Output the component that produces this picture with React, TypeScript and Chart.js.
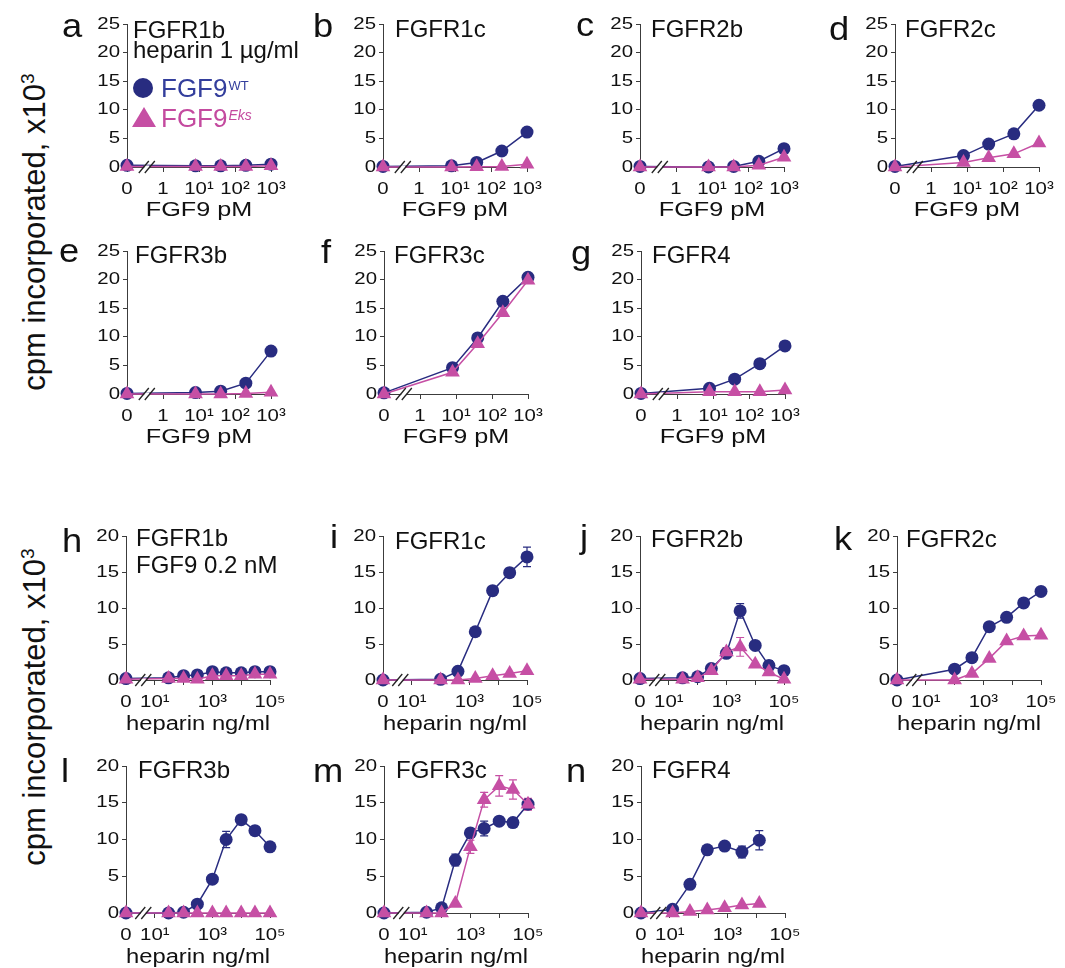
import React, { useEffect, useRef } from 'react';
import { Chart, registerables } from 'chart.js';

Chart.register(...registerables);

const FONT = '"Liberation Sans", Arial, sans-serif';
const NAVY = '#282c80';
const PINK = '#c64fa4';
const LEGEND_BLUE = '#333e9c';
const LEGEND_PINK = '#c44a9f';
const AXIS = '#3c3c3c';
const INK = '#111111';

// ---------- doses (x values) ----------
const pmDoses = [0, 8, 40, 200, 1000];
const heparinHalfLog = [0, 30, 100, 300, 1000, 3000, 10000, 30000, 100000];
const heparinFourFold = [0, 100, 400, 1600, 6400, 25000, 100000];
const heparinFourFoldLow = [0, 12.5, 50, 200, 800, 3200, 12800];

// ---------- tick labels ----------
const pmTickValues = [0.1, 1, 10, 100, 1000];
const pmTickLabels = ['0', '1', '10¹', '10²', '10³'];
const heparinTickValues = [1, 10, 100, 1000, 10000, 100000];
const heparinTickLabels = ['0', '10¹', '', '10³', '', '10⁵'];
const yTicksFGF9 = [0, 5, 10, 15, 20, 25];
const yTicksHeparin = [0, 5, 10, 15, 20];

// ---------- values, cpm x10^3 ----------
const aWT = [0.3, 0.2, 0.2, 0.3, 0.5];
const aEks = [0.1, 0.1, 0.1, 0.1, 0.2];
const bWT = [0.1, 0.2, 0.8, 2.8, 6.1];
const bEks = [0, 0, 0.05, 0.1, 0.5];
const cWT = [0.1, 0, 0.1, 1.0, 3.2];
const cEks = [0, 0, 0, 0.3, 1.7];
const dWT = [0.1, 2.0, 4.0, 5.8, 10.8];
const dEks = [0, 0.8, 1.6, 2.3, 4.2];
const eWT = [0.1, 0.25, 0.5, 1.9, 7.5];
const eEks = [0, 0, 0, 0.1, 0.3];
const fWT = [0.2, 4.6, 9.8, 16.2, 20.4];
const fEks = [0, 3.8, 8.8, 14.2, 19.9];
const gWT = [0.1, 1.0, 2.6, 5.3, 8.4];
const gEks = [0, 0.4, 0.4, 0.4, 0.7];

const hWT = [0.2, 0.3, 0.6, 0.7, 1.15, 1.0, 1.0, 1.15, 1.15];
const hEks = [0.1, 0.2, 0.2, 0.1, 0.6, 0.6, 0.6, 0.8, 0.8];
const iWT = [0, 0.1, 1.2, 6.7, 12.4, 14.9, 17.1];
const iWTErr = [0, 0, 0, 0, 0, 0.6, 1.35];
const iEks = [0, 0, 0, 0.2, 0.6, 0.9, 1.3];
const jWT = [0.2, 0.3, 0.45, 1.6, 3.7, 9.6, 4.8, 2.0, 1.3];
const jWTErr = [0, 0, 0, 0, 0, 1.0, 0, 0.7, 0];
const jEks = [0.1, 0.1, 0.3, 1.3, 3.9, 4.6, 2.2, 1.1, 0.1];
const jEksErr = [0, 0, 0, 0, 0.6, 1.3, 0, 0, 0];
const kWT = [0, 1.5, 3.1, 7.4, 8.7, 10.7, 12.3];
const kEks = [0, 0, 0.9, 3.0, 5.4, 6.1, 6.2];
const lWT = [0, 0, 0.1, 1.2, 4.6, 10.0, 12.7, 11.2, 9.0];
const lWTErr = [0, 0, 0, 0, 0, 1.1, 0.45, 0, 0];
const lEks = [0, 0, 0, 0, 0, 0, 0, 0, 0];
const mWT = [0, 0.1, 0.7, 7.2, 10.9, 11.5, 12.5, 12.3, 14.8];
const mWTErr = [0, 0, 0, 0.8, 0, 1.0, 0, 0, 0.7];
const mEks = [0, 0, 0, 1.3, 9.0, 15.4, 17.3, 16.8, 14.8];
const mEksErr = [0, 0, 0, 0, 0.9, 1.0, 1.4, 1.3, 0.8];
const nWT = [0, 0.5, 3.9, 8.6, 9.1, 8.3, 9.9];
const nWTErr = [0, 0, 0, 0, 0, 0.8, 1.3];
const nEks = [0, 0, 0.2, 0.4, 0.7, 1.1, 1.3];

// ---------- layout ----------
const LEFT_SPACE = 80;
const Y_AXIS_W = 50;
const TOP_SPACE = 24;
const RIGHT_SPACE = 34;
const X_AXIS_H = 60;
const AXIS_TEXT_STRETCH = 1.2;
const PM_BREAK = Math.pow(10, -0.45);
const HEP_BREAK = Math.pow(10, 0.6);

type Panel = {
  letter: string;
  title: string[];
  kind: 'pm' | 'hep';
  doses: number[];
  wt: number[];
  eks: number[];
  wtErr?: number[];
  eksErr?: number[];
  ax: number;
  at: number;
  pw: number;
  ph: number;
  letterPos: [number, number];
  titleDx: number;
  titleDy: number;
  line2Gap?: number;
  legend?: boolean;
};

const panels: Panel[] = [
  { letter: 'a', title: ['FGFR1b', 'heparin 1 µg/ml'], kind: 'pm', doses: pmDoses, wt: aWT, eks: aEks, ax: 127, at: 24, pw: 144, ph: 143, letterPos: [62, 37], titleDx: 6, titleDy: 14, line2Gap: 20, legend: true },
  { letter: 'b', title: ['FGFR1c'], kind: 'pm', doses: pmDoses, wt: bWT, eks: bEks, ax: 383, at: 24, pw: 144, ph: 143, letterPos: [313, 37], titleDx: 12, titleDy: 13 },
  { letter: 'c', title: ['FGFR2b'], kind: 'pm', doses: pmDoses, wt: cWT, eks: cEks, ax: 640, at: 24, pw: 144, ph: 143, letterPos: [576, 36], titleDx: 11, titleDy: 13 },
  { letter: 'd', title: ['FGFR2c'], kind: 'pm', doses: pmDoses, wt: dWT, eks: dEks, ax: 895, at: 24, pw: 144, ph: 143, letterPos: [829, 40], titleDx: 10, titleDy: 13 },
  { letter: 'e', title: ['FGFR3b'], kind: 'pm', doses: pmDoses, wt: eWT, eks: eEks, ax: 127, at: 251, pw: 144, ph: 143, letterPos: [59, 262], titleDx: 8, titleDy: 12 },
  { letter: 'f', title: ['FGFR3c'], kind: 'pm', doses: pmDoses, wt: fWT, eks: fEks, ax: 384, at: 251, pw: 144, ph: 143, letterPos: [321, 263], titleDx: 10, titleDy: 12 },
  { letter: 'g', title: ['FGFR4'], kind: 'pm', doses: pmDoses, wt: gWT, eks: gEks, ax: 641, at: 251, pw: 144, ph: 143, letterPos: [571, 264], titleDx: 11, titleDy: 12 },
  { letter: 'h', title: ['FGFR1b', 'FGF9 0.2 nM'], kind: 'hep', doses: heparinHalfLog, wt: hWT, eks: hEks, ax: 126, at: 536, pw: 144, ph: 144, letterPos: [62, 552], titleDx: 10, titleDy: 10, line2Gap: 27 },
  { letter: 'i', title: ['FGFR1c'], kind: 'hep', doses: heparinFourFold, wt: iWT, eks: iEks, wtErr: iWTErr, ax: 383, at: 536, pw: 144, ph: 144, letterPos: [330, 548], titleDx: 12, titleDy: 13 },
  { letter: 'j', title: ['FGFR2b'], kind: 'hep', doses: heparinHalfLog, wt: jWT, eks: jEks, wtErr: jWTErr, eksErr: jEksErr, ax: 640, at: 536, pw: 144, ph: 144, letterPos: [580, 548], titleDx: 11, titleDy: 11 },
  { letter: 'k', title: ['FGFR2c'], kind: 'hep', doses: heparinFourFold, wt: kWT, eks: kEks, ax: 897, at: 536, pw: 144, ph: 144, letterPos: [834, 550], titleDx: 9, titleDy: 11 },
  { letter: 'l', title: ['FGFR3b'], kind: 'hep', doses: heparinHalfLog, wt: lWT, eks: lEks, wtErr: lWTErr, ax: 126, at: 766, pw: 144, ph: 147, letterPos: [61, 782], titleDx: 12, titleDy: 12 },
  { letter: 'm', title: ['FGFR3c'], kind: 'hep', doses: heparinHalfLog, wt: mWT, eks: mEks, wtErr: mWTErr, eksErr: mEksErr, ax: 384, at: 766, pw: 144, ph: 147, letterPos: [313, 782], titleDx: 12, titleDy: 12 },
  { letter: 'n', title: ['FGFR4'], kind: 'hep', doses: heparinFourFoldLow, wt: nWT, eks: nEks, wtErr: nWTErr, ax: 641, at: 766, pw: 144, ph: 147, letterPos: [566, 782], titleDx: 11, titleDy: 12 },
];

// Horizontally stretch canvas text around its anchor (the source figure's type is widened)
function patchStretch(ctx: any) {
  if (ctx.__stretchPatched) return;
  const orig = ctx.fillText;
  ctx.fillText = function (text: string, x: number, y: number, maxWidth?: number) {
    const sx = ctx.__sx || 1;
    if (sx === 1) {
      return maxWidth === undefined ? orig.call(ctx, text, x, y) : orig.call(ctx, text, x, y, maxWidth);
    }
    ctx.save();
    ctx.translate(x, y);
    ctx.scale(sx, 1);
    if (maxWidth === undefined) orig.call(ctx, text, 0, 0);
    else orig.call(ctx, text, 0, 0, maxWidth / sx);
    ctx.restore();
  };
  ctx.__stretchPatched = true;
}

function drawText(ctx: any, text: string, x: number, y: number, font: string, color: string, sx = 1) {
  ctx.save();
  ctx.font = font;
  ctx.fillStyle = color;
  ctx.textAlign = 'left';
  ctx.textBaseline = 'alphabetic';
  ctx.__sx = sx;
  ctx.fillText(text, x, y);
  ctx.__sx = 1;
  const w = ctx.measureText(text).width * sx;
  ctx.restore();
  return w;
}

function makeFigurePlugin(p: Panel) {
  const ox = p.ax - LEFT_SPACE;
  const oy = p.at - TOP_SPACE;
  return {
    id: 'figure_' + p.letter,
    beforeDraw(chart: any) {
      patchStretch(chart.ctx);
      chart.ctx.__sx = AXIS_TEXT_STRETCH;
    },
    beforeDatasetsDraw(chart: any) {
      const ctx = chart.ctx;
      ctx.__sx = 1;
      const xs = chart.scales.x;
      const ys = chart.scales.y;
      const zeroAt = p.kind === 'pm' ? pmTickValues[0] : heparinTickValues[0];
      const series = [
        { vals: p.wt, err: p.wtErr, color: NAVY },
        { vals: p.eks, err: p.eksErr, color: PINK },
      ];
      ctx.save();
      ctx.lineWidth = 1.2;
      for (const s of series) {
        if (!s.err) continue;
        ctx.strokeStyle = s.color;
        s.err.forEach((e, i) => {
          if (!e) return;
          const d = p.doses[i];
          const x = xs.getPixelForValue(d === 0 ? zeroAt : d);
          const y1 = ys.getPixelForValue(s.vals[i] + e);
          const y2 = ys.getPixelForValue(s.vals[i] - e);
          ctx.beginPath();
          ctx.moveTo(x, y1);
          ctx.lineTo(x, y2);
          ctx.moveTo(x - 4, y1);
          ctx.lineTo(x + 4, y1);
          ctx.moveTo(x - 4, y2);
          ctx.lineTo(x + 4, y2);
          ctx.stroke();
        });
      }
      ctx.restore();
    },
    afterDatasetsDraw(chart: any) {
      const ctx = chart.ctx;
      const xs = chart.scales.x;
      const bx = xs.getPixelForValue(p.kind === 'pm' ? PM_BREAK : HEP_BREAK);
      const by = chart.chartArea.bottom;
      ctx.save();
      ctx.fillStyle = '#ffffff';
      ctx.fillRect(bx - 2.5, by - 1.5, 5, 3);
      ctx.strokeStyle = '#222222';
      ctx.lineWidth = 1.3;
      for (const dx of [-3, 3]) {
        ctx.beginPath();
        ctx.moveTo(bx + dx - 5, by + 6);
        ctx.lineTo(bx + dx + 5, by - 6);
        ctx.stroke();
      }
      ctx.restore();
    },
    afterDraw(chart: any) {
      const ctx = chart.ctx;
      // panel letter
      drawText(ctx, p.letter, p.letterPos[0] - ox, p.letterPos[1] - oy, `33px ${FONT}`, INK, 1.1);
      // title lines
      const tx = p.ax + p.titleDx - ox;
      let ty = p.at + p.titleDy - oy;
      p.title.forEach((line, idx) => {
        if (idx > 0) ty += p.line2Gap || 24;
        drawText(ctx, line, tx, ty, `24px ${FONT}`, INK, 1.0);
      });
      if (p.legend) {
        ctx.save();
        ctx.fillStyle = NAVY;
        ctx.beginPath();
        ctx.arc(143 - ox, 88 - oy, 10, 0, Math.PI * 2);
        ctx.fill();
        ctx.fillStyle = PINK;
        ctx.beginPath();
        ctx.moveTo(144 - ox, 107 - oy);
        ctx.lineTo(156 - ox, 127 - oy);
        ctx.lineTo(132 - ox, 127 - oy);
        ctx.closePath();
        ctx.fill();
        ctx.restore();
        const w1 = drawText(ctx, 'FGF9', 161 - ox, 97 - oy, `26px ${FONT}`, LEGEND_BLUE, 1);
        drawText(ctx, 'WT', 161 + w1 + 1 - ox, 90 - oy, `13px ${FONT}`, LEGEND_BLUE, 1);
        const w2 = drawText(ctx, 'FGF9', 161 - ox, 127 - oy, `26px ${FONT}`, LEGEND_PINK, 1);
        drawText(ctx, 'Eks', 161 + w2 + 1 - ox, 120 - oy, `italic 14px ${FONT}`, LEGEND_PINK, 1);
      }
      ctx.__sx = 1;
    },
  };
}

function buildConfig(p: Panel): any {
  const isPm = p.kind === 'pm';
  const tickValues = isPm ? pmTickValues : heparinTickValues;
  const tickLabels = isPm ? pmTickLabels : heparinTickLabels;
  const yTicks = isPm ? yTicksFGF9 : yTicksHeparin;
  const zeroAt = tickValues[0];
  const pts = (vals: number[]) => p.doses.map((d, i) => ({ x: d === 0 ? zeroAt : d, y: vals[i] }));
  return {
    type: 'line',
    data: {
      datasets: [
        {
          label: 'FGF9 Eks',
          data: pts(p.eks),
          borderColor: PINK,
          backgroundColor: PINK,
          pointBackgroundColor: PINK,
          borderWidth: 1.5,
          pointStyle: 'triangle',
          pointRadius: 8.5,
          pointBorderWidth: 0,
          clip: false,
        },
        {
          label: 'FGF9 WT',
          data: pts(p.wt),
          borderColor: NAVY,
          backgroundColor: NAVY,
          pointBackgroundColor: NAVY,
          borderWidth: 1.5,
          pointStyle: 'circle',
          pointRadius: 6.5,
          pointBorderWidth: 0,
          clip: false,
        },
      ],
    },
    options: {
      animation: false,
      responsive: false,
      maintainAspectRatio: false,
      events: [],
      layout: {
        autoPadding: false,
        padding: { left: LEFT_SPACE - Y_AXIS_W, top: TOP_SPACE, right: RIGHT_SPACE, bottom: 0 },
      },
      plugins: { legend: { display: false }, tooltip: { enabled: false }, title: { display: false } },
      scales: {
        x: {
          type: 'logarithmic',
          min: tickValues[0],
          max: tickValues[tickValues.length - 1],
          afterBuildTicks: (s: any) => {
            s.ticks = tickValues.map((v) => ({ value: v }));
          },
          afterFit: (s: any) => {
            s.height = X_AXIS_H;
          },
          ticks: {
            autoSkip: false,
            maxRotation: 0,
            minRotation: 0,
            padding: 7,
            color: INK,
            font: { family: FONT, size: 17 },
            callback: (v: number) => {
              const i = tickValues.findIndex((t) => Math.abs(Math.log10(t) - Math.log10(v)) < 1e-6);
              return i >= 0 ? tickLabels[i] : '';
            },
          },
          grid: { display: true, drawOnChartArea: false, drawTicks: true, tickLength: 5, color: AXIS, lineWidth: 1 },
          border: { display: true, color: AXIS, width: 1 },
          title: {
            display: true,
            text: isPm ? 'FGF9 pM' : 'heparin ng/ml',
            color: INK,
            font: { family: FONT, size: isPm ? 21 : 20, lineHeight: 1.2 },
            padding: { top: 0, bottom: 4 },
          },
        },
        y: {
          type: 'linear',
          min: 0,
          max: yTicks[yTicks.length - 1],
          afterBuildTicks: (s: any) => {
            s.ticks = yTicks.map((v) => ({ value: v }));
          },
          afterFit: (s: any) => {
            s.width = Y_AXIS_W;
          },
          ticks: { padding: 3, color: INK, font: { family: FONT, size: 17 } },
          grid: { display: true, drawOnChartArea: false, drawTicks: true, tickLength: 4, color: AXIS, lineWidth: 1 },
          border: { display: true, color: AXIS, width: 1 },
        },
      },
    },
    plugins: [makeFigurePlugin(p)],
  };
}

function PanelChart({ p }: { p: Panel }) {
  const ref = useRef<HTMLCanvasElement>(null);
  const w = LEFT_SPACE + p.pw + RIGHT_SPACE;
  const h = TOP_SPACE + p.ph + X_AXIS_H;
  useEffect(() => {
    if (!ref.current) return;
    const chart = new Chart(ref.current, buildConfig(p));
    return () => chart.destroy();
  }, []);
  return (
    <canvas
      ref={ref}
      width={w}
      height={h}
      style={{ position: 'absolute', left: p.ax - LEFT_SPACE, top: p.at - TOP_SPACE, width: w, height: h }}
    />
  );
}

function YTitle({ cx, cy }: { cx: number; cy: number }) {
  return (
    <div
      style={{
        position: 'absolute',
        left: cx,
        top: cy,
        transform: 'translate(-50%, -50%) rotate(-90deg)',
        whiteSpace: 'nowrap',
        fontFamily: FONT,
        fontSize: 31,
        lineHeight: '34px',
        color: INK,
      }}
    >
      cpm incorporated, x10<sup style={{ fontSize: '0.62em', lineHeight: 0 }}>3</sup>
    </div>
  );
}

export default function App() {
  return (
    <div style={{ position: 'absolute', left: 0, top: 0, width: 1065, height: 968, overflow: 'hidden', background: '#ffffff' }}>
      <YTitle cx={35} cy={232} />
      <YTitle cx={35} cy={707} />
      {panels.map((p) => (
        <PanelChart key={p.letter} p={p} />
      ))}
    </div>
  );
}
